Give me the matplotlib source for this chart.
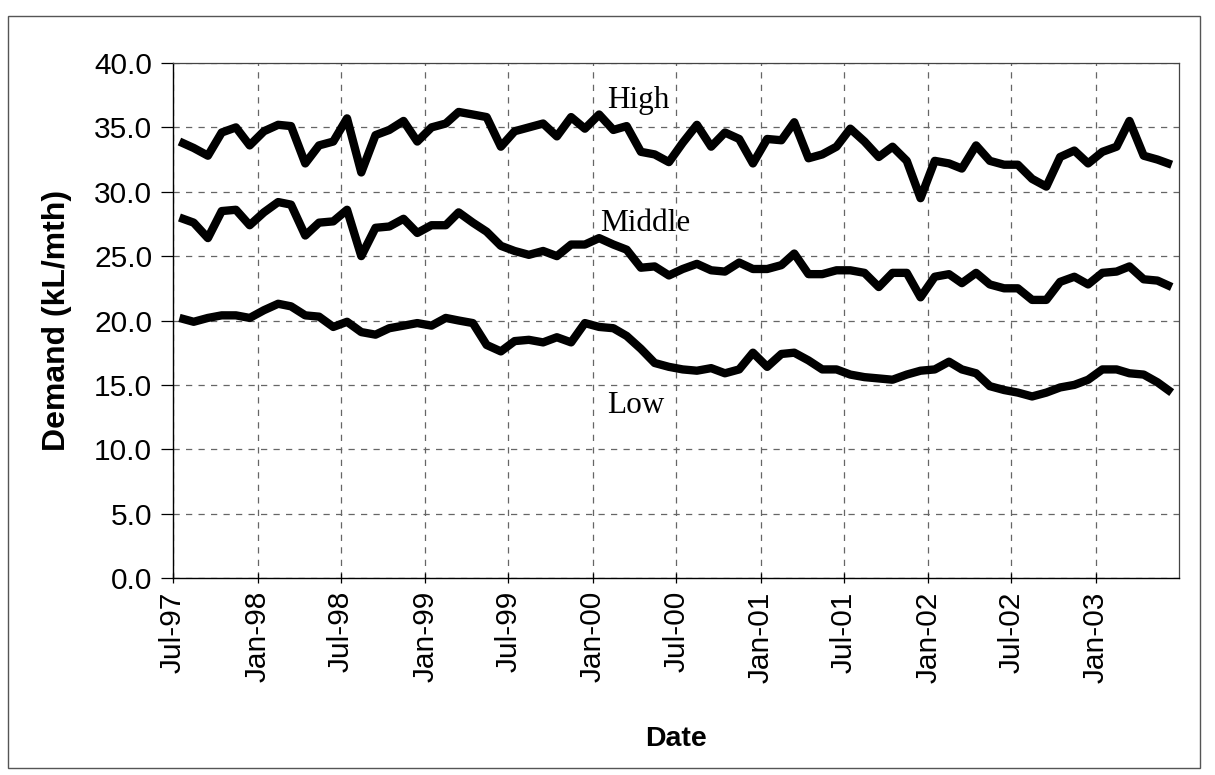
import datetime as dt
import matplotlib
matplotlib.use("Agg")
import matplotlib.pyplot as plt
import matplotlib.dates as mdates
from matplotlib.patches import Rectangle
from matplotlib.ticker import FormatStrFormatter

# Monthly residential demand (kL/mth), Jul-1997 to Jun-2003
start_year, start_month = 1997, 7
n_months = 72

high = [33.9, 33.4, 32.8, 34.6, 35.0, 33.6, 34.7, 35.2, 35.1, 32.2,
        33.6, 33.9, 35.7, 31.5, 34.4, 34.8, 35.5, 33.9, 35.0, 35.3,
        36.2, 36.0, 35.8, 33.5, 34.7, 35.0, 35.3, 34.3, 35.8, 34.9,
        36.0, 34.8, 35.1, 33.1, 32.9, 32.3, 33.8, 35.2, 33.5, 34.6,
        34.1, 32.2, 34.1, 34.0, 35.4, 32.6, 32.9, 33.5, 34.9, 33.9,
        32.7, 33.5, 32.4, 29.5, 32.4, 32.2, 31.8, 33.6, 32.4, 32.1,
        32.1, 31.0, 30.4, 32.7, 33.2, 32.2, 33.1, 33.5, 35.5, 32.8,
        32.5, 32.1]

middle = [28.0, 27.6, 26.4, 28.5, 28.6, 27.4, 28.4, 29.2, 29.0, 26.6,
          27.6, 27.7, 28.6, 25.0, 27.2, 27.3, 27.9, 26.8, 27.4, 27.4,
          28.4, 27.6, 26.9, 25.8, 25.4, 25.1, 25.4, 25.0, 25.9, 25.9,
          26.4, 25.9, 25.5, 24.1, 24.2, 23.5, 24.0, 24.4, 23.9, 23.8,
          24.5, 24.0, 24.0, 24.3, 25.2, 23.6, 23.6, 23.9, 23.9, 23.7,
          22.6, 23.7, 23.7, 21.8, 23.4, 23.6, 22.9, 23.7, 22.8, 22.5,
          22.5, 21.6, 21.6, 23.0, 23.4, 22.8, 23.7, 23.8, 24.2, 23.2,
          23.1, 22.6]

low = [20.2, 19.9, 20.2, 20.4, 20.4, 20.2, 20.8, 21.3, 21.1, 20.4,
       20.3, 19.5, 19.9, 19.1, 18.9, 19.4, 19.6, 19.8, 19.6, 20.2,
       20.0, 19.8, 18.1, 17.6, 18.4, 18.5, 18.3, 18.7, 18.3, 19.8,
       19.5, 19.4, 18.8, 17.8, 16.7, 16.4, 16.2, 16.1, 16.3, 15.9,
       16.2, 17.5, 16.4, 17.4, 17.5, 16.9, 16.2, 16.2, 15.8, 15.6,
       15.5, 15.4, 15.8, 16.1, 16.2, 16.8, 16.2, 15.9, 14.9, 14.6,
       14.4, 14.1, 14.4, 14.8, 15.0, 15.4, 16.2, 16.2, 15.9, 15.8,
       15.2, 14.4]

y_ticks = [0, 5, 10, 15, 20, 25, 30, 35, 40]


def month_date(i, day=15):
    m = start_month - 1 + i
    return dt.date(start_year + m // 12, m % 12 + 1, day)


dates = [month_date(i) for i in range(n_months)]
tick_dates = [month_date(i, 1) for i in range(0, n_months - 5, 6)]

plt.rcParams["font.family"] = ["Liberation Sans", "DejaVu Sans"]

fig = plt.figure(figsize=(12.15, 7.75), dpi=100)
ax = fig.add_axes([0.1424, 0.2542, 0.8280, 0.6645])

for series in (high, middle, low):
    ax.plot(dates, series, color="black", lw=6.0,
            solid_joinstyle="round", solid_capstyle="butt", zorder=3)

ax.set_xlim(month_date(0, 1), month_date(n_months, 1))
ax.set_ylim(0, 40)
ax.set_yticks(y_ticks)
ax.yaxis.set_major_formatter(FormatStrFormatter("%.1f"))
ax.set_xticks(tick_dates)
ax.xaxis.set_major_formatter(mdates.DateFormatter("%b-%y"))

ax.grid(True, color="#666666", lw=0.9, ls=(0, (5, 5)), zorder=1)
for side in ("left", "bottom"):
    ax.spines[side].set_color("black")
    ax.spines[side].set_linewidth(1.0)
for side in ("top", "right"):
    ax.spines[side].set_color("#444444")
    ax.spines[side].set_linewidth(0.9)

ax.tick_params(axis="y", direction="out", length=9, width=0.9,
               labelsize=21.5, pad=6)
ax.tick_params(axis="x", direction="inout", length=7, width=0.9,
               labelsize=21.5, pad=6, labelrotation=90)

ax.set_ylabel("Demand (kL/mth)", fontsize=23, fontweight="bold", labelpad=16)
ax.set_xlabel("Date", fontsize=20.5, fontweight="bold", labelpad=31)

serif = ["Liberation Serif", "DejaVu Serif"]
ax.text(dt.date(2000, 2, 1), 36.5, "High", family=serif, fontsize=22.5,
        ha="left", va="baseline")
ax.text(dt.date(2000, 1, 17), 26.95, "Middle", family=serif, fontsize=22.5,
        ha="left", va="baseline")
ax.text(dt.date(2000, 2, 1), 12.8, "Low", family=serif, fontsize=22.5,
        ha="left", va="baseline")

# thin frame around the whole chart
fig.patches.append(Rectangle((8 / 1215, 1 - 768 / 775), 1192 / 1215,
                             752 / 775, transform=fig.transFigure,
                             fill=False, lw=1.0, ec="#555555"))

fig.savefig("out.png", dpi=100)
